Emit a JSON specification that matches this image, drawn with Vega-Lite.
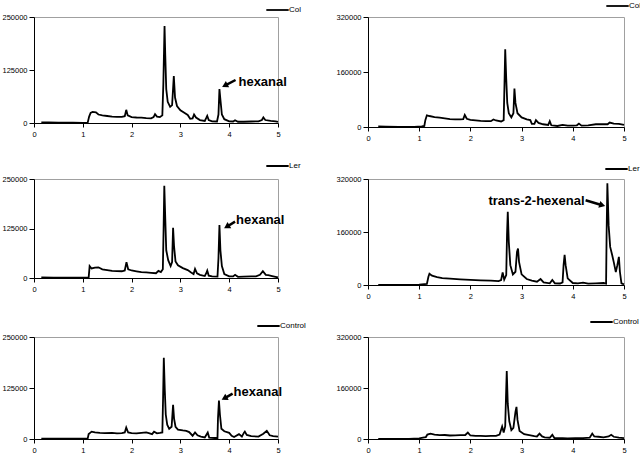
{
"$schema": "https://vega.github.io/schema/vega-lite/v6.json",
"autosize": {"type": "pad"},
"padding": {"left": 1, "top": 0, "right": 0, "bottom": 0},
"background": "white",
"config": {
  "font": "Liberation Sans",
  "view": {"stroke": "#a0a0a0", "strokeWidth": 1},
  "axis": {"grid": false, "domainColor": "black", "tickColor": "black", "labelColor": "black", "labelFont": "Liberation Sans", "labelFontSize": 7.5, "tickSize": 4},
  "axisY": {"labelPadding": 2, "tickSize": 5},
  "axisX": {"labelPadding": 3, "labelFlush": false},
  "legend": {"labelFont": "Liberation Sans", "labelFontSize": 8, "labelColor": "black", "symbolType": "stroke", "symbolStrokeWidth": 1.8, "symbolSize": 500, "clipHeight": 10, "labelOffset": -1, "padding": 0, "rowPadding": 0}
},
"resolve": {"scale": {"x": "independent", "y": "independent", "color": "independent"}, "legend": {"color": "independent"}},
"datasets": {
  "p1": [{"t":0.15,"v":1500},{"t":0.3,"v":1200},{"t":0.5,"v":800},{"t":0.8,"v":600},{"t":1.0,"v":500},{"t":1.1,"v":800},{"t":1.13,"v":15000},{"t":1.16,"v":24000},{"t":1.2,"v":26000},{"t":1.27,"v":25000},{"t":1.32,"v":20000},{"t":1.4,"v":18000},{"t":1.5,"v":16500},{"t":1.6,"v":15000},{"t":1.7,"v":14500},{"t":1.8,"v":14500},{"t":1.86,"v":16000},{"t":1.89,"v":31000},{"t":1.92,"v":18000},{"t":2.0,"v":14000},{"t":2.1,"v":13000},{"t":2.2,"v":12500},{"t":2.3,"v":11500},{"t":2.4,"v":11000},{"t":2.45,"v":14000},{"t":2.48,"v":21000},{"t":2.52,"v":15000},{"t":2.58,"v":14000},{"t":2.63,"v":18000},{"t":2.65,"v":90000},{"t":2.675,"v":229000},{"t":2.69,"v":160000},{"t":2.71,"v":80000},{"t":2.74,"v":50000},{"t":2.79,"v":38000},{"t":2.83,"v":42000},{"t":2.865,"v":111000},{"t":2.89,"v":60000},{"t":2.93,"v":40000},{"t":3.0,"v":30000},{"t":3.08,"v":24000},{"t":3.15,"v":19000},{"t":3.2,"v":10000},{"t":3.25,"v":11000},{"t":3.28,"v":20000},{"t":3.32,"v":13000},{"t":3.4,"v":7000},{"t":3.5,"v":5000},{"t":3.53,"v":12000},{"t":3.55,"v":17000},{"t":3.58,"v":7000},{"t":3.65,"v":4000},{"t":3.75,"v":3500},{"t":3.78,"v":20000},{"t":3.8,"v":80000},{"t":3.82,"v":55000},{"t":3.85,"v":20000},{"t":3.9,"v":9000},{"t":4.0,"v":4000},{"t":4.08,"v":3500},{"t":4.12,"v":6500},{"t":4.18,"v":3000},{"t":4.3,"v":3000},{"t":4.45,"v":3500},{"t":4.6,"v":4000},{"t":4.67,"v":7000},{"t":4.7,"v":13000},{"t":4.74,"v":7000},{"t":4.85,"v":5000},{"t":4.95,"v":4000},{"t":5.0,"v":2500}],
  "p2": [{"t":0.2,"v":1500},{"t":0.35,"v":1000},{"t":0.6,"v":500},{"t":0.9,"v":500},{"t":1.05,"v":1500},{"t":1.1,"v":3000},{"t":1.12,"v":20000},{"t":1.15,"v":34000},{"t":1.2,"v":32000},{"t":1.3,"v":29000},{"t":1.4,"v":27000},{"t":1.5,"v":25000},{"t":1.6,"v":23000},{"t":1.7,"v":22000},{"t":1.8,"v":22000},{"t":1.86,"v":23000},{"t":1.89,"v":35000},{"t":1.93,"v":24000},{"t":2.0,"v":21000},{"t":2.1,"v":19500},{"t":2.2,"v":18000},{"t":2.3,"v":17000},{"t":2.4,"v":17000},{"t":2.45,"v":22000},{"t":2.5,"v":19000},{"t":2.6,"v":16000},{"t":2.65,"v":20000},{"t":2.665,"v":120000},{"t":2.68,"v":226000},{"t":2.7,"v":140000},{"t":2.72,"v":70000},{"t":2.75,"v":40000},{"t":2.8,"v":28000},{"t":2.84,"v":40000},{"t":2.86,"v":112000},{"t":2.88,"v":70000},{"t":2.92,"v":40000},{"t":3.0,"v":28000},{"t":3.1,"v":22000},{"t":3.17,"v":20000},{"t":3.2,"v":9000},{"t":3.25,"v":9000},{"t":3.28,"v":20000},{"t":3.33,"v":12000},{"t":3.42,"v":8000},{"t":3.52,"v":6000},{"t":3.55,"v":17000},{"t":3.58,"v":5000},{"t":3.7,"v":3000},{"t":3.8,"v":6000},{"t":3.9,"v":4000},{"t":4.0,"v":4000},{"t":4.08,"v":5000},{"t":4.12,"v":10000},{"t":4.17,"v":4000},{"t":4.3,"v":5000},{"t":4.45,"v":8000},{"t":4.6,"v":8000},{"t":4.68,"v":8000},{"t":4.72,"v":13000},{"t":4.8,"v":10000},{"t":4.9,"v":9000},{"t":5.0,"v":6000}],
  "p3": [{"t":0.15,"v":1500},{"t":0.4,"v":1200},{"t":0.6,"v":1000},{"t":0.9,"v":800},{"t":1.12,"v":1000},{"t":1.14,"v":30000},{"t":1.18,"v":24000},{"t":1.25,"v":26000},{"t":1.32,"v":27000},{"t":1.4,"v":22000},{"t":1.5,"v":20000},{"t":1.6,"v":18000},{"t":1.7,"v":17500},{"t":1.8,"v":17000},{"t":1.86,"v":19000},{"t":1.895,"v":40000},{"t":1.93,"v":22000},{"t":2.0,"v":19000},{"t":2.1,"v":17000},{"t":2.2,"v":15000},{"t":2.3,"v":14000},{"t":2.4,"v":13000},{"t":2.5,"v":12000},{"t":2.55,"v":18000},{"t":2.6,"v":15000},{"t":2.64,"v":22000},{"t":2.655,"v":120000},{"t":2.67,"v":233000},{"t":2.69,"v":150000},{"t":2.71,"v":70000},{"t":2.75,"v":45000},{"t":2.8,"v":30000},{"t":2.83,"v":40000},{"t":2.85,"v":127000},{"t":2.87,"v":80000},{"t":2.9,"v":42000},{"t":2.95,"v":32000},{"t":3.05,"v":25000},{"t":3.15,"v":20000},{"t":3.22,"v":14000},{"t":3.27,"v":10000},{"t":3.3,"v":23000},{"t":3.34,"v":12000},{"t":3.4,"v":8000},{"t":3.5,"v":5000},{"t":3.53,"v":12000},{"t":3.55,"v":18500},{"t":3.58,"v":6000},{"t":3.65,"v":4000},{"t":3.76,"v":3500},{"t":3.78,"v":50000},{"t":3.8,"v":134000},{"t":3.82,"v":70000},{"t":3.85,"v":30000},{"t":3.9,"v":10000},{"t":4.0,"v":4000},{"t":4.08,"v":4000},{"t":4.12,"v":8000},{"t":4.18,"v":3000},{"t":4.3,"v":3500},{"t":4.45,"v":4000},{"t":4.55,"v":4000},{"t":4.63,"v":8000},{"t":4.69,"v":17000},{"t":4.75,"v":8000},{"t":4.8,"v":7000},{"t":4.88,"v":5000},{"t":4.95,"v":3000},{"t":5.0,"v":1500}],
  "p4": [{"t":0.2,"v":500},{"t":0.5,"v":300},{"t":0.8,"v":300},{"t":1.0,"v":1000},{"t":1.15,"v":3000},{"t":1.18,"v":25000},{"t":1.2,"v":34000},{"t":1.25,"v":28000},{"t":1.35,"v":24000},{"t":1.45,"v":21000},{"t":1.6,"v":19000},{"t":1.8,"v":17000},{"t":2.0,"v":15500},{"t":2.2,"v":14000},{"t":2.4,"v":13000},{"t":2.55,"v":12000},{"t":2.6,"v":15000},{"t":2.63,"v":38000},{"t":2.66,"v":16000},{"t":2.7,"v":30000},{"t":2.715,"v":150000},{"t":2.73,"v":221000},{"t":2.75,"v":130000},{"t":2.78,"v":60000},{"t":2.83,"v":32000},{"t":2.88,"v":40000},{"t":2.91,"v":100000},{"t":2.93,"v":110000},{"t":2.95,"v":70000},{"t":3.0,"v":32000},{"t":3.1,"v":18000},{"t":3.2,"v":13000},{"t":3.3,"v":10000},{"t":3.37,"v":18000},{"t":3.43,"v":8000},{"t":3.55,"v":5000},{"t":3.6,"v":15000},{"t":3.65,"v":5000},{"t":3.75,"v":4500},{"t":3.8,"v":8000},{"t":3.82,"v":60000},{"t":3.84,"v":91000},{"t":3.86,"v":60000},{"t":3.9,"v":20000},{"t":4.0,"v":6000},{"t":4.1,"v":5000},{"t":4.2,"v":7000},{"t":4.3,"v":4000},{"t":4.45,"v":5000},{"t":4.6,"v":6000},{"t":4.65,"v":4000},{"t":4.66,"v":150000},{"t":4.675,"v":307000},{"t":4.7,"v":180000},{"t":4.73,"v":115000},{"t":4.77,"v":90000},{"t":4.8,"v":69000},{"t":4.84,"v":39000},{"t":4.87,"v":60000},{"t":4.9,"v":85000},{"t":4.92,"v":40000},{"t":4.95,"v":5000},{"t":5.0,"v":2000}],
  "p5": [{"t":0.15,"v":1000},{"t":0.4,"v":800},{"t":0.7,"v":600},{"t":1.0,"v":800},{"t":1.1,"v":1000},{"t":1.12,"v":12000},{"t":1.15,"v":15000},{"t":1.18,"v":18000},{"t":1.25,"v":16000},{"t":1.35,"v":15000},{"t":1.45,"v":14500},{"t":1.6,"v":15000},{"t":1.7,"v":14000},{"t":1.8,"v":14500},{"t":1.86,"v":16000},{"t":1.89,"v":28000},{"t":1.93,"v":16000},{"t":2.0,"v":14500},{"t":2.1,"v":14000},{"t":2.2,"v":15000},{"t":2.3,"v":16000},{"t":2.37,"v":14000},{"t":2.42,"v":12000},{"t":2.46,"v":18000},{"t":2.52,"v":14000},{"t":2.58,"v":15000},{"t":2.63,"v":16000},{"t":2.645,"v":100000},{"t":2.66,"v":199000},{"t":2.68,"v":120000},{"t":2.7,"v":60000},{"t":2.73,"v":35000},{"t":2.77,"v":25000},{"t":2.82,"v":30000},{"t":2.85,"v":84000},{"t":2.87,"v":50000},{"t":2.9,"v":30000},{"t":2.95,"v":23000},{"t":3.05,"v":21000},{"t":3.12,"v":20000},{"t":3.18,"v":17000},{"t":3.25,"v":8000},{"t":3.3,"v":16000},{"t":3.35,"v":9000},{"t":3.42,"v":6000},{"t":3.5,"v":4000},{"t":3.53,"v":10000},{"t":3.56,"v":16000},{"t":3.59,"v":3500},{"t":3.7,"v":2500},{"t":3.76,"v":2500},{"t":3.77,"v":50000},{"t":3.79,"v":94000},{"t":3.81,"v":60000},{"t":3.84,"v":25000},{"t":3.9,"v":19000},{"t":4.0,"v":15000},{"t":4.05,"v":8000},{"t":4.1,"v":5000},{"t":4.2,"v":12000},{"t":4.26,"v":6000},{"t":4.3,"v":15000},{"t":4.32,"v":18000},{"t":4.36,"v":10000},{"t":4.45,"v":7000},{"t":4.6,"v":6000},{"t":4.7,"v":13000},{"t":4.77,"v":20000},{"t":4.83,"v":9000},{"t":4.9,"v":7000},{"t":5.0,"v":6000}],
  "p6": [{"t":0.2,"v":500},{"t":0.5,"v":300},{"t":0.8,"v":500},{"t":1.0,"v":2000},{"t":1.1,"v":5000},{"t":1.13,"v":6000},{"t":1.16,"v":14000},{"t":1.22,"v":17000},{"t":1.3,"v":14000},{"t":1.4,"v":12000},{"t":1.5,"v":12500},{"t":1.6,"v":11000},{"t":1.7,"v":11500},{"t":1.8,"v":12000},{"t":1.9,"v":12500},{"t":1.95,"v":20000},{"t":2.0,"v":11000},{"t":2.1,"v":10000},{"t":2.2,"v":9500},{"t":2.3,"v":9000},{"t":2.4,"v":9500},{"t":2.5,"v":10000},{"t":2.57,"v":14000},{"t":2.62,"v":39000},{"t":2.65,"v":20000},{"t":2.68,"v":40000},{"t":2.695,"v":130000},{"t":2.71,"v":213000},{"t":2.73,"v":110000},{"t":2.76,"v":55000},{"t":2.8,"v":28000},{"t":2.84,"v":35000},{"t":2.88,"v":85000},{"t":2.9,"v":101000},{"t":2.92,"v":60000},{"t":2.96,"v":25000},{"t":3.05,"v":15000},{"t":3.15,"v":12000},{"t":3.25,"v":9000},{"t":3.3,"v":8000},{"t":3.35,"v":17000},{"t":3.4,"v":8000},{"t":3.45,"v":5000},{"t":3.55,"v":4000},{"t":3.6,"v":13000},{"t":3.64,"v":3000},{"t":3.8,"v":2500},{"t":3.9,"v":2000},{"t":4.05,"v":2500},{"t":4.2,"v":3000},{"t":4.33,"v":4000},{"t":4.38,"v":17000},{"t":4.42,"v":8000},{"t":4.5,"v":7000},{"t":4.6,"v":5000},{"t":4.7,"v":8000},{"t":4.75,"v":13000},{"t":4.8,"v":7000},{"t":4.9,"v":4000},{"t":5.0,"v":3000}]
},
"columns": 2,
"align": "each",
"bounds": "flush",
"spacing": {"row": 52, "column": 90},
"concat": [
  {"width": 244, "height": 106, "layer": [
    {"data": {"name": "p1"}, "mark": {"type": "line", "strokeWidth": 1.8},
     "encoding": {
      "x": {"field": "t", "type": "quantitative", "scale": {"domain": [0, 5], "nice": false}, "axis": {"values": [0,1,2,3,4,5], "title": null}},
      "y": {"field": "v", "type": "quantitative", "scale": {"domain": [0, 250000], "nice": false}, "axis": {"values": [0,125000,250000], "format": "d", "title": null}},
      "color": {"datum": "Col", "scale": {"range": ["black"]}, "legend": {"orient": "none", "legendX": 231, "legendY": -12, "title": null}}}},
    {"data": {"values": [{"t": 4.13, "v": 101400, "t2": 3.91, "v2": 88200}]}, "mark": {"type": "rule", "strokeWidth": 2.5, "color": "black"},
     "encoding": {"x": {"field": "t", "type": "quantitative"}, "y": {"field": "v", "type": "quantitative"}, "x2": {"field": "t2"}, "y2": {"field": "v2"}}},
    {"data": {"values": [{"t": 3.91, "v": 88200}]}, "mark": {"type": "point", "shape": "triangle-right", "angle": 152, "filled": true, "size": 50, "color": "black", "opacity": 1},
     "encoding": {"x": {"field": "t", "type": "quantitative"}, "y": {"field": "v", "type": "quantitative"}}},
    {"data": {"values": [{"t": 4.19, "v": 96700, "label": "hexanal"}]}, "mark": {"type": "text", "align": "left", "baseline": "middle", "fontSize": 13, "fontWeight": "bold", "font": "Liberation Sans", "color": "black"},
     "encoding": {"x": {"field": "t", "type": "quantitative"}, "y": {"field": "v", "type": "quantitative"}, "text": {"field": "label"}}}
  ]},
  {"width": 256, "height": 110, "layer": [
    {"data": {"name": "p2"}, "mark": {"type": "line", "strokeWidth": 1.8},
     "encoding": {
      "x": {"field": "t", "type": "quantitative", "scale": {"domain": [0, 5], "nice": false}, "axis": {"values": [0,1,2,3,4,5], "title": null}},
      "y": {"field": "v", "type": "quantitative", "scale": {"domain": [0, 320000], "nice": false}, "axis": {"values": [0,160000,320000], "format": "d", "title": null}},
      "color": {"datum": "Col", "scale": {"range": ["black"]}, "legend": {"orient": "none", "legendX": 237, "legendY": -16, "title": null}}}}
  ]},
  {"width": 244, "height": 99, "layer": [
    {"data": {"name": "p3"}, "mark": {"type": "line", "strokeWidth": 1.8},
     "encoding": {
      "x": {"field": "t", "type": "quantitative", "scale": {"domain": [0, 5], "nice": false}, "axis": {"values": [0,1,2,3,4,5], "title": null}},
      "y": {"field": "v", "type": "quantitative", "scale": {"domain": [0, 250000], "nice": false}, "axis": {"values": [0,125000,250000], "format": "d", "title": null}},
      "color": {"datum": "Ler", "scale": {"range": ["black"]}, "legend": {"orient": "none", "legendX": 231, "legendY": -18, "title": null}}}},
    {"data": {"values": [{"t": 4.12, "v": 142200, "t2": 3.95, "v2": 129500}]}, "mark": {"type": "rule", "strokeWidth": 2.5, "color": "black"},
     "encoding": {"x": {"field": "t", "type": "quantitative"}, "y": {"field": "v", "type": "quantitative"}, "x2": {"field": "t2"}, "y2": {"field": "v2"}}},
    {"data": {"values": [{"t": 3.95, "v": 129500}]}, "mark": {"type": "point", "shape": "triangle-right", "angle": 149, "filled": true, "size": 50, "color": "black", "opacity": 1},
     "encoding": {"x": {"field": "t", "type": "quantitative"}, "y": {"field": "v", "type": "quantitative"}}},
    {"data": {"values": [{"t": 4.14, "v": 146500, "label": "hexanal"}]}, "mark": {"type": "text", "align": "left", "baseline": "middle", "fontSize": 13, "fontWeight": "bold", "font": "Liberation Sans", "color": "black"},
     "encoding": {"x": {"field": "t", "type": "quantitative"}, "y": {"field": "v", "type": "quantitative"}, "text": {"field": "label"}}}
  ]},
  {"width": 256, "height": 106, "layer": [
    {"data": {"name": "p4"}, "mark": {"type": "line", "strokeWidth": 1.8},
     "encoding": {
      "x": {"field": "t", "type": "quantitative", "scale": {"domain": [0, 5], "nice": false}, "axis": {"values": [0,1,2,3,4,5], "title": null}},
      "y": {"field": "v", "type": "quantitative", "scale": {"domain": [0, 320000], "nice": false}, "axis": {"values": [0,160000,320000], "format": "d", "title": null}},
      "color": {"datum": "Ler", "scale": {"range": ["black"]}, "legend": {"orient": "none", "legendX": 236, "legendY": -15, "title": null}}}},
    {"data": {"values": [{"t": 4.25, "v": 255700, "t2": 4.575, "v2": 240900}]}, "mark": {"type": "rule", "strokeWidth": 2.5, "color": "black"},
     "encoding": {"x": {"field": "t", "type": "quantitative"}, "y": {"field": "v", "type": "quantitative"}, "x2": {"field": "t2"}, "y2": {"field": "v2"}}},
    {"data": {"values": [{"t": 4.575, "v": 240900}]}, "mark": {"type": "point", "shape": "triangle-right", "angle": 16, "filled": true, "size": 50, "color": "black", "opacity": 1},
     "encoding": {"x": {"field": "t", "type": "quantitative"}, "y": {"field": "v", "type": "quantitative"}}},
    {"data": {"values": [{"t": 4.23, "v": 253600, "label": "trans-2-hexenal"}]}, "mark": {"type": "text", "align": "right", "baseline": "middle", "fontSize": 13, "fontWeight": "bold", "font": "Liberation Sans", "color": "black"},
     "encoding": {"x": {"field": "t", "type": "quantitative"}, "y": {"field": "v", "type": "quantitative"}, "text": {"field": "label"}}}
  ]},
  {"width": 244, "height": 102, "layer": [
    {"data": {"name": "p5"}, "mark": {"type": "line", "strokeWidth": 1.8},
     "encoding": {
      "x": {"field": "t", "type": "quantitative", "scale": {"domain": [0, 5], "nice": false}, "axis": {"values": [0,1,2,3,4,5], "title": null}},
      "y": {"field": "v", "type": "quantitative", "scale": {"domain": [0, 250000], "nice": false}, "axis": {"values": [0,125000,250000], "format": "d", "title": null}},
      "color": {"datum": "Control", "scale": {"range": ["black"]}, "legend": {"orient": "none", "legendX": 222, "legendY": -16, "title": null}}}},
    {"data": {"values": [{"t": 4.07, "v": 111000, "t2": 3.9, "v2": 99800}]}, "mark": {"type": "rule", "strokeWidth": 2.5, "color": "black"},
     "encoding": {"x": {"field": "t", "type": "quantitative"}, "y": {"field": "v", "type": "quantitative"}, "x2": {"field": "t2"}, "y2": {"field": "v2"}}},
    {"data": {"values": [{"t": 3.9, "v": 99800}]}, "mark": {"type": "point", "shape": "triangle-right", "angle": 151, "filled": true, "size": 50, "color": "black", "opacity": 1},
     "encoding": {"x": {"field": "t", "type": "quantitative"}, "y": {"field": "v", "type": "quantitative"}}},
    {"data": {"values": [{"t": 4.09, "v": 115200, "label": "hexanal"}]}, "mark": {"type": "text", "align": "left", "baseline": "middle", "fontSize": 13, "fontWeight": "bold", "font": "Liberation Sans", "color": "black"},
     "encoding": {"x": {"field": "t", "type": "quantitative"}, "y": {"field": "v", "type": "quantitative"}, "text": {"field": "label"}}}
  ]},
  {"width": 256, "height": 102, "layer": [
    {"data": {"name": "p6"}, "mark": {"type": "line", "strokeWidth": 1.8},
     "encoding": {
      "x": {"field": "t", "type": "quantitative", "scale": {"domain": [0, 5], "nice": false}, "axis": {"values": [0,1,2,3,4,5], "title": null}},
      "y": {"field": "v", "type": "quantitative", "scale": {"domain": [0, 320000], "nice": false}, "axis": {"values": [0,160000,320000], "format": "d", "title": null}},
      "color": {"datum": "Control", "scale": {"range": ["black"]}, "legend": {"orient": "none", "legendX": 221, "legendY": -20, "title": null}}}}
  ]}
]
}
